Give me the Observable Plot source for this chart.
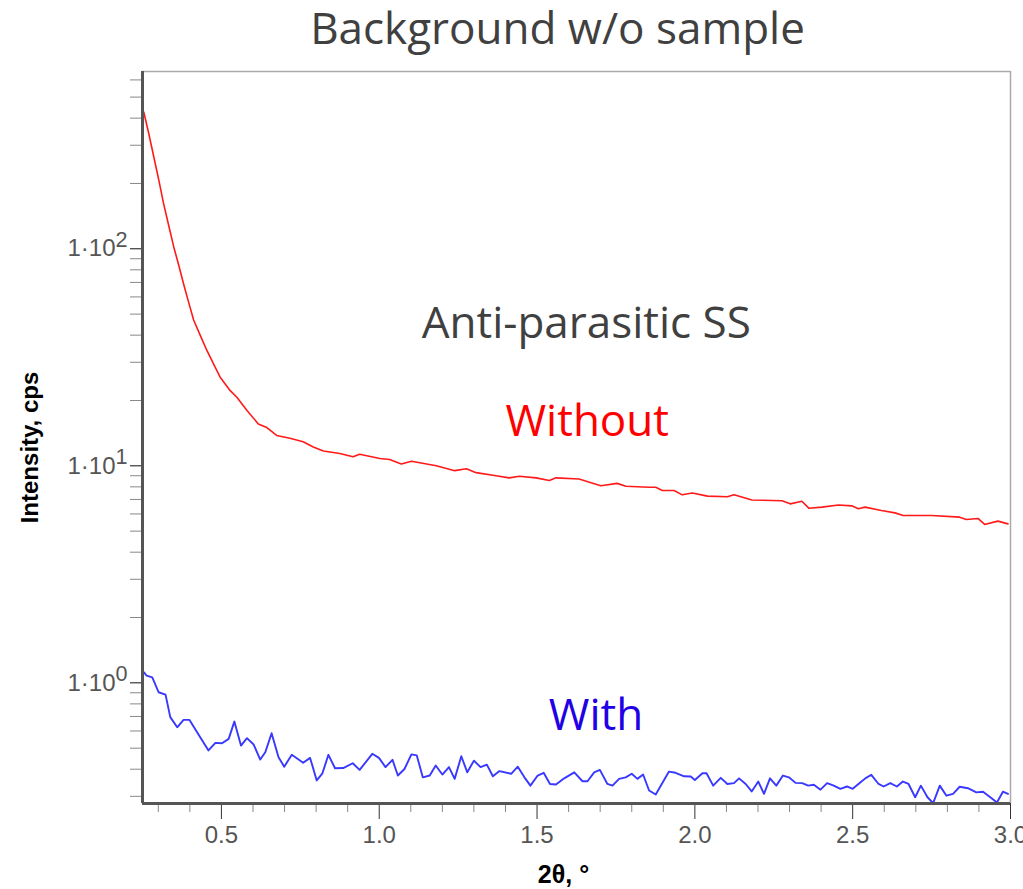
<!DOCTYPE html>
<html><head><meta charset="utf-8">
<script src="https://cdn.jsdelivr.net/npm/d3@7"></script>
<script src="https://cdn.jsdelivr.net/npm/@observablehq/plot@0.6"></script>
<style>body{margin:0;background:#fff}</style>
</head><body><div id="chart"></div>
<script>
// ---- data ----
const title = "Background w/o sample";
const xLabel = "2θ, °";
const yLabel = "Intensity, cps";

const withoutX = [0.254,0.270,0.286,0.302,0.317,0.333,0.349,0.365,0.380,0.396,0.412,0.433,0.454,0.475,0.496,0.528,0.549,0.581,0.617,0.644,0.675,0.717,0.759,0.791,0.823,0.875,0.917,0.938,1.002,1.033,1.070,1.102,1.181,1.239,1.276,1.307,1.370,1.412,1.444,1.497,1.539,1.560,1.633,1.702,1.754,1.781,1.855,1.876,1.897,1.934,1.960,1.992,2.040,2.103,2.124,2.181,2.276,2.302,2.339,2.361,2.403,2.455,2.497,2.518,2.539,2.591,2.634,2.660,2.750,2.839,2.860,2.897,2.918,2.960,2.992];
const withoutY = [427,339,264,206,161,128,102,83.8,69,56.8,47,39.9,34,29.5,25.6,22.2,20.7,18.0,15.6,15.0,13.8,13.4,12.9,12.2,11.7,11.4,11.0,11.3,10.8,10.7,10.2,10.5,10.0,9.5,9.7,9.3,9.0,8.8,8.95,8.8,8.55,8.8,8.7,8.1,8.3,8.05,7.96,7.96,7.7,7.7,7.35,7.5,7.25,7.2,7.35,6.96,6.9,6.68,6.87,6.38,6.45,6.6,6.54,6.34,6.45,6.22,6.07,5.9,5.9,5.8,5.66,5.72,5.37,5.56,5.4];

const withX = [0.254,0.263,0.281,0.301,0.323,0.338,0.360,0.380,0.399,0.423,0.459,0.481,0.502,0.523,0.541,0.562,0.581,0.602,0.623,0.639,0.659,0.681,0.699,0.723,0.759,0.781,0.802,0.820,0.839,0.860,0.886,0.916,0.938,0.978,0.999,1.020,1.042,1.059,1.080,1.102,1.119,1.138,1.160,1.179,1.200,1.221,1.239,1.260,1.279,1.300,1.321,1.341,1.360,1.381,1.418,1.439,1.460,1.479,1.502,1.521,1.541,1.560,1.586,1.618,1.644,1.660,1.681,1.699,1.723,1.739,1.760,1.781,1.800,1.818,1.836,1.855,1.876,1.918,1.939,1.966,1.987,2.000,2.024,2.037,2.058,2.082,2.103,2.124,2.140,2.161,2.180,2.201,2.219,2.238,2.258,2.279,2.298,2.319,2.340,2.359,2.377,2.398,2.419,2.440,2.461,2.482,2.500,2.525,2.540,2.559,2.582,2.598,2.619,2.640,2.659,2.677,2.698,2.716,2.737,2.755,2.776,2.797,2.818,2.839,2.865,2.892,2.913,2.939,2.957,2.976,2.992];
const withY = [1.12,1.08,1.06,0.905,0.883,0.695,0.624,0.675,0.675,0.592,0.488,0.529,0.527,0.552,0.663,0.514,0.556,0.520,0.443,0.479,0.586,0.454,0.411,0.466,0.428,0.451,0.355,0.383,0.466,0.404,0.405,0.426,0.397,0.471,0.451,0.409,0.442,0.374,0.401,0.468,0.463,0.367,0.374,0.416,0.378,0.409,0.361,0.459,0.387,0.438,0.409,0.420,0.371,0.392,0.381,0.411,0.367,0.336,0.374,0.385,0.342,0.340,0.363,0.387,0.352,0.352,0.387,0.397,0.342,0.336,0.361,0.367,0.381,0.361,0.378,0.319,0.306,0.390,0.385,0.371,0.370,0.357,0.383,0.383,0.336,0.365,0.342,0.345,0.363,0.342,0.316,0.351,0.308,0.363,0.336,0.374,0.367,0.346,0.345,0.336,0.339,0.322,0.345,0.336,0.325,0.333,0.325,0.348,0.363,0.377,0.342,0.333,0.345,0.333,0.351,0.342,0.297,0.336,0.297,0.279,0.336,0.302,0.308,0.332,0.327,0.313,0.315,0.295,0.281,0.315,0.308];

const xMajorTicks = [0.5,1.0,1.5,2.0,2.5,3.0];
const xTickLabels = ["0.5","1.0","1.5","2.0","2.5","3.0"];
const xMinorTicks = [0.3,0.4,0.6,0.7,0.8,0.9,1.1,1.2,1.3,1.4,1.6,1.7,1.8,1.9,2.1,2.2,2.3,2.4,2.6,2.7,2.8,2.9];
const yMajorTicks = [1,10,100];
const yTickBase = "1·10";
const yTickExponents = ["0","1","2"];
const yMinorTicks = [0.3,0.4,0.5,0.6,0.7,0.8,0.9,2,3,4,5,6,7,8,9,20,30,40,50,60,70,80,90,200,300,400,500,600];

const annotations = ["Anti-parasitic SS","Without","With"];

// ---- build ----
const xDomain = [0.25, 3.0];
const yDomain = [0.278, 656];
const redData = withoutX.map((x,i)=>({x, y: withoutY[i]}));
const blueData = withX.map((x,i)=>({x, y: withY[i]}));
const annData = [
  {t: annotations[0], x: 1.656, y: 45.3, c: "#404040"},
  {t: annotations[1], x: 1.659, y: 15.85, c: "#ff0000"},
  {t: annotations[2], x: 1.687, y: 0.707, c: "#2200e6"}
];
const sans = "'Open Sans', 'Noto Sans', sans-serif";

const chart = Plot.plot({
  width: 1023, height: 889,
  marginLeft: 142, marginRight: 13, marginTop: 71, marginBottom: 86,
  style: {fontFamily: "'Liberation Sans', Arial, sans-serif", background: "white", overflow: "visible"},
  x: {domain: xDomain, axis: null},
  y: {type: "log", domain: yDomain, axis: null},
  marks: [
    Plot.axisY(yMinorTicks, {tickSize: 12, tickFormat: () => "", stroke: "#888", label: null}),
    Plot.axisY(yMajorTicks, {tickSize: 12, tickPadding: 3, tickFormat: d => yTickBase + "^" + yTickExponents[yMajorTicks.indexOf(d)], stroke: "#111", fill: "#555", fontSize: 24, label: null}),
    Plot.axisX(xMinorTicks, {tickSize: 9, tickFormat: () => "", stroke: "#888", label: null}),
    Plot.axisX(xMajorTicks, {tickSize: 16, tickPadding: 6, tickFormat: d => xTickLabels[xMajorTicks.indexOf(d)], stroke: "#333", fill: "#555", fontSize: 24, label: null}),
    Plot.ruleY([yDomain[1]], {stroke: "#aaa", strokeWidth: 1.5}),
    Plot.ruleX([xDomain[1]], {stroke: "#aaa", strokeWidth: 1.5}),
    Plot.line(blueData, {x: "x", y: "y", stroke: "#3838ff", strokeWidth: 1.9, clip: true}),
    Plot.line(redData, {x: "x", y: "y", stroke: "#ff1a1a", strokeWidth: 1.6, clip: true}),
    Plot.ruleX([xDomain[0]], {stroke: "#555", strokeWidth: 3}),
    Plot.ruleY([yDomain[0]], {stroke: "#555", strokeWidth: 3}),
    Plot.text(annData, {x: "x", y: "y", text: "t", fill: "c", fontSize: 44, fontFamily: sans, textAnchor: "middle", lineAnchor: "middle"}),
    Plot.text([title], {frameAnchor: "top", dx: -19, dy: -42, fontSize: 44, fontFamily: sans, fill: "#404040", lineAnchor: "middle"}),
    Plot.text([yLabel], {frameAnchor: "left", dx: -112, dy: 10, rotate: -90, fontSize: 24, fontWeight: "bold", fill: "#000", textAnchor: "middle", lineAnchor: "middle"}),
    Plot.text([xLabel], {frameAnchor: "bottom", dx: -13, dy: 71, fontSize: 25, fontWeight: "bold", fill: "#000", lineAnchor: "middle"})
  ]
});
// render exponent as a raised superscript
chart.querySelectorAll("text").forEach(t => {
  const s = t.textContent;
  if (s.includes("^")) {
    const [base, exp] = s.split("^");
    t.textContent = "";
    const b = document.createElementNS("http://www.w3.org/2000/svg", "tspan");
    b.textContent = base;
    const e = document.createElementNS("http://www.w3.org/2000/svg", "tspan");
    e.textContent = exp;
    e.setAttribute("dy", "-0.42em");
    e.setAttribute("font-size", "0.9em");
    t.appendChild(b); t.appendChild(e);
  }
});
document.getElementById("chart").appendChild(chart);
</script>
</body></html>
